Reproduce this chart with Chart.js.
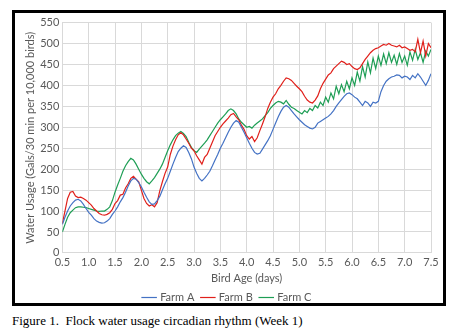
<!DOCTYPE html>
<html>
<head>
<meta charset="utf-8">
<script src="https://cdn.jsdelivr.net/npm/chart.js@4"></script>
<style>
  body { margin: 0; background: #fff; width: 458px; height: 331px; position: relative; overflow: hidden; }
  #box { position: absolute; left: 12px; top: 10px; width: 428px; height: 290px; border: 3px solid #000; }
  #chart { position: absolute; left: 15px; top: 13px; }
  #caption { position: absolute; left: 12px; top: 313px; font-family: "Liberation Serif", "Times New Roman", serif; font-size: 13px; color: #000; white-space: pre; }
</style>
</head>
<body>
<div id="box"></div>
<canvas id="chart" width="428" height="300"></canvas>
<div id="caption">Figure 1.  Flock water usage circadian rhythm (Week 1)</div>
<script>
// samples every 0.05 day from 0.5 to 7.5
const startDay = 0.5;
const stepDay = 0.05;

const farmA = [
  68,85,100,112,120,126,128,124,116,106,
  97,90,82,76,73,71,72,76,82,92,
  100,110,122,132,145,160,172,178,176,168,
  158,145,133,122,116,117,125,135,150,165,
  178,195,212,228,242,250,256,252,240,225,
  205,190,178,172,178,186,195,208,222,235,
  250,262,275,288,300,310,316,312,300,288,
  275,262,250,240,236,238,248,258,268,280,
  295,310,325,338,348,352,348,340,332,325,
  318,312,306,302,298,296,300,310,314,318,
  322,326,332,340,350,358,366,374,380,382,
  378,372,368,360,352,362,358,350,360,358,
  362,385,400,410,416,420,422,425,424,418,
  422,420,414,424,418,428,420,410,400,412,
  428
];

const farmB = [
  70,100,130,145,147,136,132,133,130,126,
  120,114,106,100,94,91,90,92,96,104,
  118,125,138,140,155,165,178,183,176,170,
  150,130,118,112,115,110,120,148,170,190,
  205,235,255,270,282,287,282,272,262,250,
  244,232,222,212,228,235,250,265,280,290,
  300,308,315,322,330,333,325,318,305,295,
  280,272,278,266,275,292,308,325,345,360,
  372,380,392,400,410,418,416,412,405,398,
  392,385,374,365,360,358,365,375,392,405,
  415,425,430,440,446,452,458,455,450,452,
  445,440,438,442,452,462,470,478,484,488,
  490,494,498,496,500,496,494,492,496,490,
  492,488,484,486,480,510,478,506,470,500,
  490
];

const farmC = [
  50,68,85,96,102,108,110,110,109,108,
  106,104,102,100,99,100,100,104,110,125,
  145,162,178,195,208,218,226,222,212,200,
  188,178,170,165,172,180,190,200,212,228,
  244,258,270,280,286,290,285,278,264,252,
  244,240,248,255,262,270,280,290,300,310,
  318,325,332,340,344,340,332,320,312,306,
  300,302,298,305,310,315,320,328,335,345,
  352,358,362,360,356,364,355,348,345,340,
  336,332,340,335,345,340,352,346,360,352,
  372,360,382,368,398,380,402,385,410,392,
  418,400,432,410,445,420,456,430,465,440,
  470,448,475,452,478,455,472,450,476,455,
  470,448,480,460,486,462,478,455,482,470,
  486
];

const seriesNames = ["Farm A", "Farm B", "Farm C"];
const seriesColors = ["#4472c4", "#e0201b", "#1e9e55"];
const yTicks = [0, 50, 100, 150, 200, 250, 300, 350, 400, 450, 500, 550];

function toPoints(arr) {
  return arr.map((v, i) => ({ x: startDay + i * stepDay, y: v }));
}

const font = "Lato, 'Open Sans', sans-serif";
const tickColor = "#595959";

new Chart(document.getElementById("chart"), {
  type: "line",
  data: {
    datasets: [farmA, farmB, farmC].map((arr, i) => ({
      label: seriesNames[i],
      data: toPoints(arr),
      borderColor: seriesColors[i],
      backgroundColor: seriesColors[i],
      borderWidth: 1.2,
      pointRadius: 0,
      tension: 0
    }))
  },
  options: {
    responsive: false,
    animation: false,
    layout: { padding: { left: 9, right: 12, top: 4, bottom: 0 } },
    plugins: {
      legend: {
        position: "bottom",
        labels: {
          usePointStyle: true,
          pointStyle: "line",
          boxWidth: 14,
          padding: 8,
          color: tickColor,
          font: { family: font, size: 11 }
        }
      },
      tooltip: { enabled: false }
    },
    scales: {
      x: {
        type: "linear",
        min: 0.5,
        max: 7.5,
        ticks: {
          stepSize: 0.5,
          color: tickColor,
          font: { family: font, size: 11, lineHeight: 1.1 },
          padding: 4,
          callback: v => Number(v).toFixed(1)
        },
        grid: { color: "#d9d9d9", drawTicks: false },
        border: { color: "#d9d9d9" },
        title: { display: true, text: "Bird Age (days)", color: tickColor, font: { family: font, size: 11, lineHeight: 1.0 }, padding: { top: 0, bottom: 0 } }
      },
      y: {
        min: 0,
        max: 550,
        afterBuildTicks: axis => { axis.ticks = yTicks.map(v => ({ value: v })); },
        ticks: {
          color: tickColor,
          font: { family: font, size: 11 },
          padding: 3
        },
        grid: { color: "#d9d9d9", drawTicks: false },
        border: { color: "#d9d9d9" },
        title: { display: true, text: "Water Usage (Gals/30 min per 10,000 birds)", color: tickColor, font: { family: font, size: 11 }, padding: { top: 0, bottom: 0 } }
      }
    }
  }
});
</script>
</body>
</html>
